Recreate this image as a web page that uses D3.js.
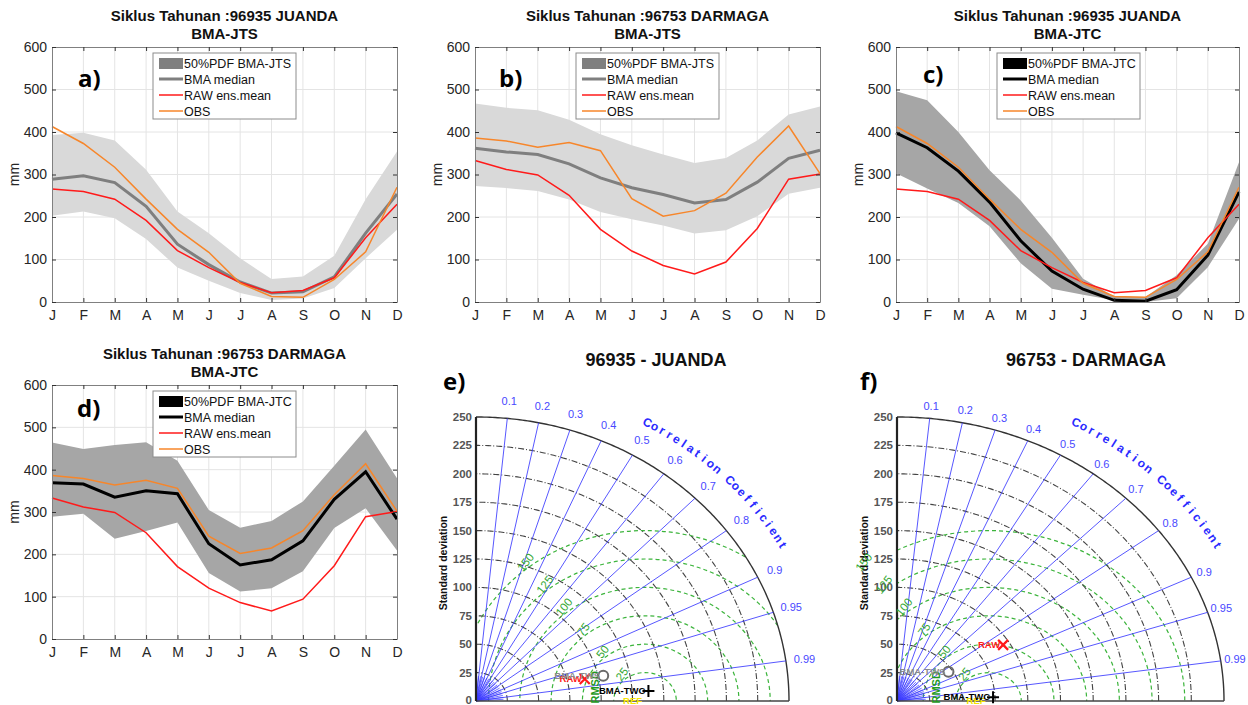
<!DOCTYPE html>
<html>
<head>
<meta charset="utf-8">
<script src="https://cdn.jsdelivr.net/npm/d3@7.9.0/dist/d3.min.js"></script>
<style>
  body { margin: 0; background: #fff; }
  svg { display: block; font-family: "Liberation Sans", Arial, sans-serif; }
</style>
</head>
<body>
<svg id="fig" width="1248" height="705"></svg>
<script>
// ---- data (mm) ----
const months = ["J", "F", "M", "A", "M", "J", "J", "A", "S", "O", "N", "D"];

// 96935 JUANDA
const obsJuanda    = [413, 373, 317, 242, 171, 117, 44, 13, 11, 53, 118, 270];
const rawJuanda    = [266, 260, 242, 192, 121, 81, 46, 22, 27, 57, 151, 230];
const medJuandaJTS = [289, 297, 281, 225, 136, 88, 47, 21, 24, 59, 162, 254];
const loJuandaJTS  = [203, 213, 197, 148, 81, 50, 21, 5, 8, 33, 103, 170];
const hiJuandaJTS  = [393, 398, 380, 311, 213, 162, 103, 54, 60, 109, 242, 354];
const medJuandaJTC = [398, 363, 308, 235, 144, 73, 30, 4, 2, 29, 110, 259];
const loJuandaJTC  = [303, 267, 233, 178, 91, 31, 17, 4, 0, 9, 82, 196];
const hiJuandaJTC  = [496, 475, 400, 310, 239, 151, 55, 13, 12, 63, 137, 329];

// 96753 DARMAGA
const obsDarmaga    = [386, 379, 364, 375, 356, 243, 202, 215, 256, 341, 414, 302];
const rawDarmaga    = [333, 312, 299, 251, 171, 120, 86, 66, 94, 173, 289, 301];
const medDarmagaJTS = [362, 353, 347, 325, 292, 269, 253, 233, 241, 282, 338, 357];
const loDarmagaJTS  = [273, 268, 261, 241, 212, 195, 180, 161, 169, 202, 255, 269];
const hiDarmagaJTS  = [467, 457, 451, 429, 395, 369, 347, 327, 339, 380, 441, 460];
const medDarmagaJTC = [369, 366, 335, 350, 343, 225, 175, 187, 232, 330, 395, 283];
const loDarmagaJTC  = [289, 296, 237, 255, 275, 156, 112, 120, 160, 262, 309, 209];
const hiDarmagaJTC  = [464, 449, 458, 465, 421, 305, 263, 279, 325, 409, 495, 380];

// Taylor diagrams: REF, RAW, BMA-TWS, BMA-TWC
const taylorNames = ["REF", "RAW", "BMA-TWS", "BMA-TWC"];
const juandaStd   = [135, 89, 104, 138];
const juandaCorr  = [1, 0.976, 0.977, 0.998];
const darmagaStd  = [70, 95, 47, 73.5];
const darmagaCorr = [1, 0.854, 0.837, 0.999];

const stdTicks  = [0, 25, 50, 75, 100, 125, 150, 175, 200, 225, 250];
const corrTicks = [0.1, 0.2, 0.3, 0.4, 0.5, 0.6, 0.7, 0.8, 0.9, 0.95, 0.99];
const rmsTicks  = [25, 50, 75, 100, 125, 150];

const svg = d3.select('#fig');
const FONT = '"Liberation Sans", Arial, sans-serif';

function styleAxis(sel) {
  sel.attr('font-size', 14).attr('font-family', FONT);
  sel.select('.domain').attr('stroke', '#808080');
  sel.selectAll('.tick line').attr('stroke', '#333');
  sel.selectAll('.tick text').attr('fill', '#262626');
}

// -----------------------------
// annual cycle panel
// -----------------------------
function drawCycle(cfg) {
  const g = svg.append('g').attr('transform', `translate(${cfg.x},${cfg.y})`);
  const x = d3.scaleLinear().domain([0, 11]).range([0, cfg.w]);
  const y = d3.scaleLinear().domain([0, 600]).range([cfg.h, 0]);

  // grid
  g.append('g').selectAll('line').data(d3.range(1, 11)).join('line')
    .attr('x1', d => x(d)).attr('x2', d => x(d))
    .attr('y1', 0).attr('y2', cfg.h)
    .attr('stroke', '#e4e4e4');
  g.append('g').selectAll('line').data(d3.range(100, 600, 100)).join('line')
    .attr('x1', 0).attr('x2', cfg.w)
    .attr('y1', d => y(d)).attr('y2', d => y(d))
    .attr('stroke', '#e4e4e4');

  // 50% band
  const area = d3.area()
    .x((d, i) => x(i))
    .y0((d, i) => y(cfg.lo[i]))
    .y1((d, i) => y(cfg.hi[i]));
  g.append('path').datum(cfg.hi).attr('d', area).attr('fill', cfg.bandColor);

  const line = d3.line().x((d, i) => x(i)).y(d => y(d));
  g.append('path').datum(cfg.med).attr('d', line)
    .attr('fill', 'none').attr('stroke', cfg.medColor).attr('stroke-width', 3);
  g.append('path').datum(cfg.raw).attr('d', line)
    .attr('fill', 'none').attr('stroke', '#ff1a1a').attr('stroke-width', 1.5);
  g.append('path').datum(cfg.obs).attr('d', line)
    .attr('fill', 'none').attr('stroke', '#f7862a').attr('stroke-width', 1.5);

  // axes (inward ticks, box)
  const xb = g.append('g').attr('transform', `translate(0,${cfg.h})`)
    .call(d3.axisBottom(x).tickValues(d3.range(12)).tickFormat(i => months[i])
      .tickSizeInner(-4).tickSizeOuter(0).tickPadding(8));
  styleAxis(xb);
  const xt = g.append('g')
    .call(d3.axisTop(x).tickValues(d3.range(12)).tickFormat('')
      .tickSizeInner(-4).tickSizeOuter(0));
  styleAxis(xt);
  const yl = g.append('g')
    .call(d3.axisLeft(y).tickValues(d3.range(0, 601, 100))
      .tickSizeInner(-4).tickSizeOuter(0).tickPadding(5));
  styleAxis(yl);
  const yr = g.append('g').attr('transform', `translate(${cfg.w},0)`)
    .call(d3.axisRight(y).tickValues(d3.range(0, 601, 100)).tickFormat('')
      .tickSizeInner(-4).tickSizeOuter(0));
  styleAxis(yr);

  g.append('text')
    .attr('transform', `translate(-33,${cfg.h / 2}) rotate(-90)`)
    .attr('text-anchor', 'middle').attr('font-size', 14).attr('fill', '#262626')
    .text('mm');

  // titles
  g.append('text').attr('x', cfg.w / 2).attr('y', -26)
    .attr('text-anchor', 'middle').attr('font-size', 15).attr('font-weight', 'bold')
    .attr('fill', '#111').text(cfg.title);
  g.append('text').attr('x', cfg.w / 2).attr('y', -8)
    .attr('text-anchor', 'middle').attr('font-size', 15).attr('font-weight', 'bold')
    .attr('fill', '#111').text(cfg.subtitle);

  // panel letter
  g.append('text').attr('x', cfg.lx).attr('y', cfg.ly)
    .attr('font-family', '"Open Sans", sans-serif').attr('font-weight', 700)
    .attr('font-size', 24).attr('fill', '#000').text(cfg.letter);

  // legend
  const lg = g.append('g').attr('transform', 'translate(101,6)');
  lg.append('rect').attr('width', 143).attr('height', 66)
    .attr('fill', '#fff').attr('stroke', '#8c8c8c');
  const entries = [
    { name: cfg.pdfName, kind: 'patch', color: cfg.patchColor, w: 0 },
    { name: 'BMA median', kind: 'line', color: cfg.medColor, w: 3 },
    { name: 'RAW ens.mean', kind: 'line', color: '#ff1a1a', w: 1.5 },
    { name: 'OBS', kind: 'line', color: '#f7862a', w: 1.5 }
  ];
  entries.forEach((e, i) => {
    const cy = 10 + i * 16;
    if (e.kind === 'patch') {
      lg.append('rect').attr('x', 6).attr('y', cy - 5).attr('width', 24).attr('height', 11)
        .attr('fill', e.color);
    } else {
      lg.append('line').attr('x1', 6).attr('x2', 30).attr('y1', cy).attr('y2', cy)
        .attr('stroke', e.color).attr('stroke-width', e.w);
    }
    lg.append('text').attr('x', 31).attr('y', cy + 4.5)
      .attr('font-size', 12.5).attr('fill', '#111').text(e.name);
  });
}

// -----------------------------
// Taylor diagram panel
// -----------------------------
function drawTaylor(cfg) {
  const g = svg.append('g');
  const sx = d3.scaleLinear().domain([0, 250]).range([cfg.ox, cfg.ox + cfg.rx]);
  const sy = d3.scaleLinear().domain([0, 250]).range([cfg.oy, cfg.oy - cfg.ry]);
  const pt = (r, c) => [sx(r * c), sy(r * Math.sqrt(Math.max(0, 1 - c * c)))];
  const ptA = (r, a) => [sx(r * Math.cos(a)), sy(r * Math.sin(a))];
  const lineGen = d3.line();
  const quarter = d3.range(0, 90.25, 0.5).map(a => a * Math.PI / 180);

  // clip region (quarter ellipse)
  const clipId = 'clip-' + cfg.id;
  g.append('clipPath').attr('id', clipId).append('path')
    .attr('d', lineGen([[sx(0), sy(0)], ...quarter.map(a => ptA(250, a))]) + 'Z');

  // RMSD circles around REF
  const refStd = cfg.std[0];
  g.append('g').attr('clip-path', `url(#${clipId})`)
    .selectAll('ellipse').data(rmsTicks).join('ellipse')
    .attr('cx', sx(refStd)).attr('cy', sy(0))
    .attr('rx', r => sx(r) - sx(0)).attr('ry', r => sy(0) - sy(r))
    .attr('fill', 'none').attr('stroke', '#3cb43c').attr('stroke-width', 1.2)
    .attr('stroke-dasharray', '4,3');

  // standard deviation arcs
  g.append('g').selectAll('path').data(stdTicks.slice(1)).join('path')
    .attr('d', r => lineGen(quarter.map(a => ptA(r, a))))
    .attr('fill', 'none')
    .attr('stroke', r => r === 250 ? '#333' : '#444')
    .attr('stroke-width', r => r === 250 ? 1.4 : 1.1)
    .attr('stroke-dasharray', r => r === 250 ? null : '6,2,1,2');

  // correlation rays
  g.append('g').selectAll('line').data(corrTicks).join('line')
    .attr('x1', sx(0)).attr('y1', sy(0))
    .attr('x2', c => pt(250, c)[0]).attr('y2', c => pt(250, c)[1])
    .attr('stroke', '#3a3aff').attr('stroke-width', 1).attr('stroke-opacity', 0.85);
  // dense fan near origin
  g.append('g').selectAll('line').data(d3.range(4, 90, 4.5)).join('line')
    .attr('x1', sx(0)).attr('y1', sy(0))
    .attr('x2', a => ptA(22, a * Math.PI / 180)[0])
    .attr('y2', a => ptA(22, a * Math.PI / 180)[1])
    .attr('stroke', '#3a3aff').attr('stroke-width', 0.9).attr('stroke-opacity', 0.8);

  // axes
  g.append('line').attr('x1', sx(0)).attr('x2', sx(250)).attr('y1', sy(0)).attr('y2', sy(0))
    .attr('stroke', '#444').attr('stroke-width', 1.5);
  g.append('line').attr('x1', sx(0)).attr('x2', sx(0)).attr('y1', sy(0)).attr('y2', sy(250))
    .attr('stroke', '#222').attr('stroke-width', 2.2);

  g.append('g').selectAll('text').data(stdTicks).join('text')
    .attr('x', sx(0) - 4).attr('y', d => Math.min(sy(d) + 4, 704))
    .attr('text-anchor', 'end').attr('font-size', 11.5).attr('font-weight', 'bold')
    .attr('fill', '#555').text(d => d);
  g.append('text')
    .attr('transform', `translate(${sx(0) - 29},${sy(125) + 4}) rotate(-90)`)
    .attr('text-anchor', 'middle').attr('font-size', 10.5).attr('font-weight', 'bold')
    .attr('fill', '#111').text('Standard deviation');

  // correlation labels
  g.append('g').selectAll('text').data(corrTicks).join('text')
    .attr('x', c => pt(cfg.labR, c)[0]).attr('y', c => pt(cfg.labR, c)[1] + 4)
    .attr('text-anchor', 'middle').attr('font-size', 11).attr('fill', '#4848ff')
    .text(c => c);

  // curved axis title, one glyph at a time along the arc
  const a0 = 61.5 * Math.PI / 180, a1 = 28.5 * Math.PI / 180;
  const R = 281;
  const p0 = ptA(R, a0), p1 = ptA(R, a1);
  const arcRx = sx(R) - sx(0), arcRy = sy(0) - sy(R);
  const arcNode = g.append('path')
    .attr('d', `M${p0[0]},${p0[1]} A${arcRx},${arcRy} 0 0 1 ${p1[0]},${p1[1]}`)
    .attr('fill', 'none').node();
  const arcLen = arcNode.getTotalLength();
  const chars = 'Correlation Coefficient'.split('');
  chars.forEach((ch, i) => {
    if (ch === ' ') return;
    const L = arcLen * (i + 0.5) / chars.length;
    const p = arcNode.getPointAtLength(L);
    const pa = arcNode.getPointAtLength(Math.max(0, L - 1));
    const pb = arcNode.getPointAtLength(Math.min(arcLen, L + 1));
    const ang = Math.atan2(pb.y - pa.y, pb.x - pa.x) * 180 / Math.PI;
    g.append('text')
      .attr('transform', `translate(${p.x},${p.y}) rotate(${ang})`)
      .attr('text-anchor', 'middle').attr('dy', '0.35em')
      .attr('font-size', 12).attr('font-weight', 'bold').attr('fill', '#2a2aff')
      .text(ch);
  });

  // RMSD labels
  const la = 128 * Math.PI / 180;
  g.append('g').selectAll('text').data(rmsTicks).join('text')
    .attr('transform', r => `translate(${sx(refStd + (r + 5) * Math.cos(la))},${sy((r + 5) * Math.sin(la))}) rotate(-52)`)
    .attr('text-anchor', 'middle').attr('dy', '0.35em')
    .attr('font-size', 11.5).attr('fill', '#34a834').text(r => r);
  g.append('text')
    .attr('transform', `translate(${sx(refStd - 40)},${sy(12)}) rotate(-90)`)
    .attr('text-anchor', 'middle').attr('dy', '0.35em')
    .attr('font-size', 11).attr('font-weight', 'bold').attr('fill', '#1f9a1f').text('RMSD');

  // points
  const colors = ['#f5e400', '#ff1a1a', '#8a8a8a', '#000'];
  cfg.std.forEach((s, i) => {
    const [px, py] = pt(s, cfg.corr[i]);
    if (i === 1) {
      g.append('path').attr('d', `M${px - 5},${py - 5}L${px + 5},${py + 5}M${px - 5},${py + 5}L${px + 5},${py - 5}`)
        .attr('stroke', colors[i]).attr('stroke-width', 2.2);
    } else if (i === 2) {
      g.append('circle').attr('cx', px).attr('cy', py).attr('r', 5)
        .attr('fill', 'none').attr('stroke', '#6a6a6a').attr('stroke-width', 2);
    } else if (i === 3) {
      g.append('path').attr('d', `M${px - 6},${py}L${px + 6},${py}M${px},${py - 6}L${px},${py + 6}`)
        .attr('stroke', colors[i]).attr('stroke-width', 2);
    }
    g.append('text').attr('x', px - 3).attr('y', py + 3)
      .attr('text-anchor', 'end').attr('font-size', 9.5).attr('font-weight', 'bold')
      .attr('fill', colors[i]).text(taylorNames[i]);
  });

  // title + letter
  g.append('text').attr('x', cfg.tx).attr('y', 366)
    .attr('text-anchor', 'middle').attr('font-size', 18).attr('font-weight', 'bold')
    .attr('fill', '#111').text(cfg.title);
  g.append('text').attr('x', cfg.lx).attr('y', 390)
    .attr('font-family', '"Open Sans", sans-serif').attr('font-weight', 700)
    .attr('font-size', 24).attr('fill', '#000').text(cfg.letter);
}

drawCycle({
  x: 52, y: 47, w: 345, h: 255, title: 'Siklus Tahunan :96935 JUANDA', subtitle: 'BMA-JTS',
  letter: 'a)', lx: 26, ly: 40, obs: obsJuanda, raw: rawJuanda, med: medJuandaJTS,
  lo: loJuandaJTS, hi: hiJuandaJTS, bandColor: '#d9d9d9', medColor: '#7f7f7f',
  patchColor: '#7f7f7f', pdfName: '50%PDF BMA-JTS'
});
drawCycle({
  x: 475, y: 47, w: 345, h: 255, title: 'Siklus Tahunan :96753 DARMAGA', subtitle: 'BMA-JTS',
  letter: 'b)', lx: 24, ly: 40, obs: obsDarmaga, raw: rawDarmaga, med: medDarmagaJTS,
  lo: loDarmagaJTS, hi: hiDarmagaJTS, bandColor: '#d9d9d9', medColor: '#7f7f7f',
  patchColor: '#7f7f7f', pdfName: '50%PDF BMA-JTS'
});
drawCycle({
  x: 896, y: 47, w: 343, h: 255, title: 'Siklus Tahunan :96935 JUANDA', subtitle: 'BMA-JTC',
  letter: 'c)', lx: 27, ly: 36, obs: obsJuanda, raw: rawJuanda, med: medJuandaJTC,
  lo: loJuandaJTC, hi: hiJuandaJTC, bandColor: '#a6a6a6', medColor: '#000',
  patchColor: '#000', pdfName: '50%PDF BMA-JTC'
});
drawCycle({
  x: 52, y: 385, w: 345, h: 254, title: 'Siklus Tahunan :96753 DARMAGA', subtitle: 'BMA-JTC',
  letter: 'd)', lx: 25, ly: 32, obs: obsDarmaga, raw: rawDarmaga, med: medDarmagaJTC,
  lo: loDarmagaJTC, hi: hiDarmagaJTC, bandColor: '#a6a6a6', medColor: '#000',
  patchColor: '#000', pdfName: '50%PDF BMA-JTC'
});

drawTaylor({
  id: 'e', ox: 476, oy: 701, rx: 313, ry: 284, std: juandaStd, corr: juandaCorr,
  title: '96935 - JUANDA', tx: 656, letter: 'e)', lx: 443, labR: 265
});
drawTaylor({
  id: 'f', ox: 897, oy: 701, rx: 327, ry: 284, std: darmagaStd, corr: darmagaCorr,
  title: '96753 - DARMAGA', tx: 1086, letter: 'f)', lx: 860, labR: 261
});
</script>
</body>
</html>
